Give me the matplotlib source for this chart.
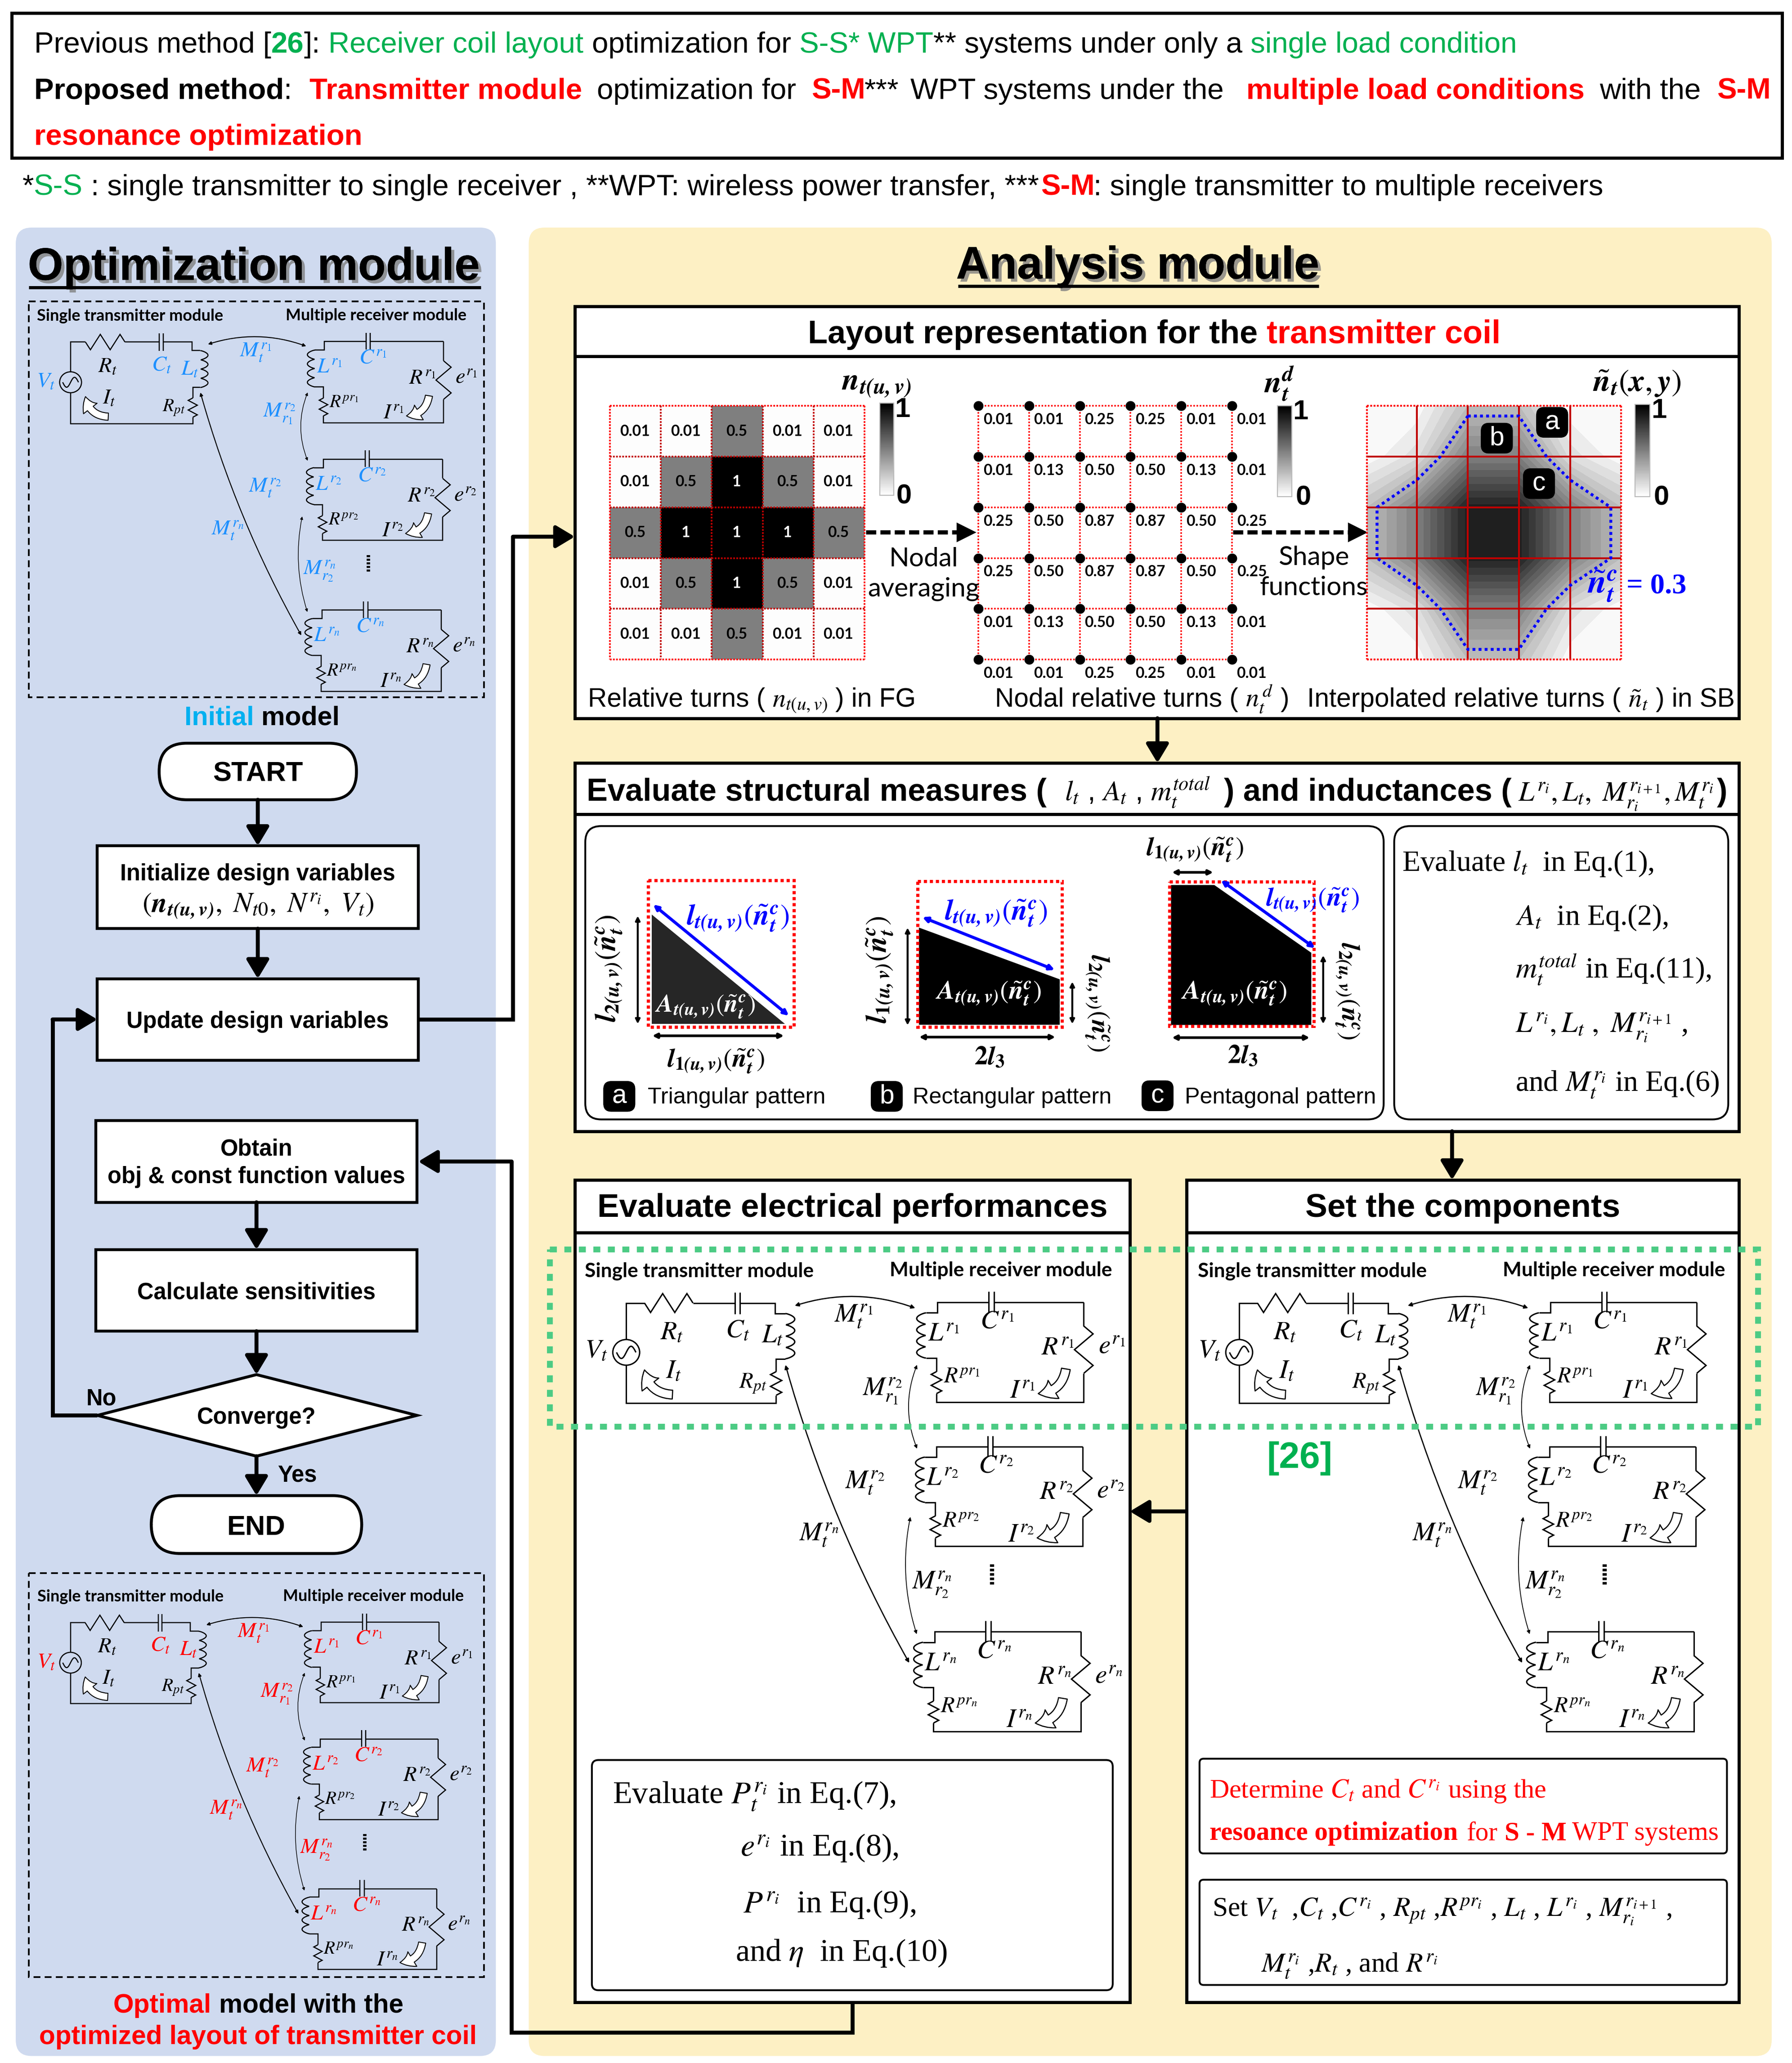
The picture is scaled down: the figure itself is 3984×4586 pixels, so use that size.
from matplotlib import pyplot as plt
from matplotlib.patches import FancyBboxPatch, FancyArrowPatch, Polygon, Ellipse, Rectangle
import matplotlib.patheffects as pe
import numpy as np

plt.rcParams['mathtext.fontset'] = 'stix'

# values
fg_turns = [[0.01, 0.01, 0.5, 0.01, 0.01],
            [0.01, 0.5, 1, 0.5, 0.01],
            [0.5, 1, 1, 1, 0.5],
            [0.01, 0.5, 1, 0.5, 0.01],
            [0.01, 0.01, 0.5, 0.01, 0.01]]
nodal_turns = [[0.01, 0.01, 0.25, 0.25, 0.01, 0.01],
               [0.01, 0.13, 0.50, 0.50, 0.13, 0.01],
               [0.25, 0.50, 0.87, 0.87, 0.50, 0.25],
               [0.25, 0.50, 0.87, 0.87, 0.50, 0.25],
               [0.01, 0.13, 0.50, 0.50, 0.13, 0.01],
               [0.01, 0.01, 0.25, 0.25, 0.01, 0.01]]
threshold = 0.3

W, H = 1360, 4586 / (3984 / 1360)
PT = 3984 / 1360 * 0.72   # one picture unit in points
K = 0.9982
SANS = 'Liberation Sans'
SERIF = 'Liberation Serif'
LABEL = 'Lato'
RED = '#FF0000'
GREEN = '#00B050'
DARKRED = '#C00000'
BLUE = '#0000FF'

fig = plt.figure(figsize=(39.84, 45.86), dpi=100)
ax = fig.add_axes([0, 0, 1, 1])
ax.set_xlim(0, W)
ax.set_ylim(H, 0)
ax.set_autoscale_on(False)
ax.axis('off')
renderer = fig.canvas.get_renderer()


def txt(x, y, s, size, color='black', weight='normal', family=SANS, ha='center', va='center', **kw):
    return ax.text(x, y, s, fontsize=size * PT, color=color, fontweight=weight, family=family,
                   ha=ha, va=va, **kw)


def ft(x, y, *a, **k):
    return txt(x * K, y * K + 1.7, *a, **k)


def rich(x, y, parts, size, family=SANS):
    # parts: (text, color, weight) with optional x and size
    base = y + 0.36 * size
    for p in parts:
        if len(p) > 3 and p[3] is not None:
            x = p[3]
        s = p[0]
        sz = p[4] if len(p) > 4 else size
        x += 0.28 * sz * (len(s) - len(s.lstrip()))
        if not s.strip():
            continue
        t = txt(x, base, s.strip(), sz, p[1], p[2], family, ha='left', va='baseline')
        x += t.get_window_extent(renderer).width / (3984 / W)
        x += 0.28 * sz * (len(s) - len(s.rstrip()))


def line(xs, ys, lw=1.0, color='black', ls='-', z=2, **kw):
    ax.plot(xs, ys, color=color, lw=lw * PT, ls=ls, zorder=z, solid_capstyle='butt',
            solid_joinstyle='miter', **kw)


def box(x0, y0, x1, y1, fc='white', ec='black', lw=1.5, r=0, z=0.6, ls='-'):
    x0, y0, x1, y1 = x0 * K, y0 * K, x1 * K, y1 * K
    style = f'round,pad=0,rounding_size={r}' if r else 'square,pad=0'
    ax.add_patch(FancyBboxPatch((x0, y0), x1 - x0, y1 - y0, boxstyle=style, fc=fc, ec=ec,
                                lw=lw * PT, ls=ls, zorder=z))


HEAD = '-|>,head_length=0.6,head_width=0.36'


def arrow(pts, lw=3.0):
    pts = [(p[0] * K, p[1] * K) for p in pts]
    xs = [p[0] for p in pts]
    ys = [p[1] for p in pts]
    line(xs[:-1], ys[:-1], lw=lw, z=1.5)
    ax.add_patch(FancyArrowPatch(pts[-2], pts[-1], arrowstyle=HEAD, mutation_scale=20 * PT,
                                 fc='black', ec='black', lw=lw * PT, shrinkA=0, shrinkB=0, zorder=1.6))


def dashed_arrow(x0, x1, y):
    line([x0, x1 - 14], [y, y], lw=3.2, ls=(0, (2.4, 1)), z=1.7)
    ax.add_patch(Polygon([(x1 - 15, y - 7.5), (x1, y), (x1 - 15, y + 7.5)], closed=True, fc='black', ec='none',
                         zorder=1.7))


def both(a, b, lw=1.2, color='black', rad=0.0, ms=7):
    ax.add_patch(FancyArrowPatch(a, b, arrowstyle='<|-|>', connectionstyle=f'arc3,rad={rad}',
                                 mutation_scale=ms * PT, fc=color, ec=color, lw=lw * PT,
                                 shrinkA=0, shrinkB=0, zorder=3))


def badge(x, y, s):
    ax.add_patch(FancyBboxPatch((x - 12, y - 11.5), 24, 23, boxstyle='round,pad=0,rounding_size=6', fc='black',
                                ec='black', lw=0.3 * PT, zorder=3))
    ax.text(x, y, s, color='white', fontsize=20 * PT, family=SANS, ha='center', va='center', zorder=4)


def zigzag(p0, p1, n, amp):
    t = np.linspace(0, 1, 2 * n + 1)
    sign = np.where(np.arange(2 * n + 1) % 2 == 1, 1.0, 0.0)
    sign = sign * np.where(np.arange(2 * n + 1) % 4 == 1, 1, -1)
    xs = p0[0] + (p1[0] - p0[0]) * t
    ys = p0[1] + (p1[1] - p0[1]) * t
    dx, dy = p1[0] - p0[0], p1[1] - p0[1]
    ln = np.hypot(dx, dy)
    return xs - dy / ln * amp * sign, ys + dx / ln * amp * sign


def circuit(ox, oy, sx, sy, c_vt, c_m, c_lc, scale=1.0, show_e=True, title_size=12.3):
    tx = lambda x: ox + sx * np.asarray(x, dtype=float)
    ty = lambda y: oy + sy * np.asarray(y, dtype=float)
    lw = 0.85 * scale

    def pl(xs, ys, w=lw):
        line(tx(xs), ty(ys), lw=w, z=2.5)

    def lab(x, y, s, color='black', size=16.5):
        txt(tx(x), ty(y), s, size * scale, color, family=SERIF, zorder=5)

    def hollow(a, b, rad):
        ax.add_patch(FancyArrowPatch((tx(a[0]), ty(a[1])), (tx(b[0]), ty(b[1])),
                                     connectionstyle=f'arc3,rad={rad}',
                                     arrowstyle='simple,head_width=1.0,tail_width=0.42,head_length=0.75',
                                     mutation_scale=13 * scale * PT, fc='white', ec='black',
                                     lw=0.7 * scale * PT, shrinkA=0, shrinkB=0, zorder=3))

    def coil(x, y0, y1, side):
        t = np.linspace(0, 4, 160)
        xs = x + side * 25 * np.abs(np.sin(np.pi * t)) ** 0.7
        ys = y0 + (y1 - y0) * t / 4
        pl(xs, ys)

    txt(tx(62), ty(102), 'Single transmitter module', title_size * scale, weight='bold', family=LABEL, ha='left')
    txt(tx(880), ty(100), 'Multiple receiver module', title_size * scale, weight='bold', family=LABEL, ha='left')

    # transmitter loop
    pl([173, 173, 222], [305, 197, 197])
    zx, zy = zigzag((222, 197), (352, 197), 4, 28)
    pl(zx, zy)
    pl([352, 465], [197, 197])
    pl([465, 465], [165, 229])
    pl([478, 478], [165, 229])
    pl([478, 572, 572, 600], [197, 197, 228, 228])
    coil(600, 228, 362, 1)
    pl([600, 575, 575], [362, 362, 400])
    zx, zy = zigzag((575, 400), (575, 470), 4, 15)
    pl(zx, zy)
    pl([575, 575, 173, 173], [470, 493, 493, 381])
    ax.add_patch(Ellipse((tx(173), ty(343)), 72 * sx, 76 * sy, fc='none', ec='black', lw=lw * PT, zorder=2.5))
    t = np.linspace(-1, 1, 40)
    pl(173 + 26 * t, 343 - 18 * np.sin(np.pi * t))
    lab(92, 340, r'$V_t$', c_vt)
    lab(295, 285, r'$R_t$')
    lab(472, 280, r'$C_t$', c_lc)
    lab(565, 295, r'$L_t$', c_lc)
    lab(300, 400, r'$I_t$')
    lab(513, 435, r'$R_{pt}$', size=14)
    hollow((297, 468), (222, 395), -0.4)

    # receivers
    rec = [(0, 0, '1'), (-3, 427, '2'), (-8, 975, 'n')]
    for dx, dy, i in rec:
        xl, xr = 1008 + dx, 1400 + dx
        pl([xr, 1152 + dx + 7], [195 + dy, 195 + dy])
        pl([1145 + dx, 1145 + dx], [163 + dy, 224 + dy])
        pl([1159 + dx, 1159 + dx], [163 + dy, 224 + dy])
        pl([1145 + dx, xl, xl, 977 + dx], [195 + dy, 195 + dy, 226 + dy, 226 + dy])
        coil(977 + dx, 226 + dy, 360 + dy, -1)
        pl([977 + dx, xl - 3, xl - 3], [360 + dy, 360 + dy, 400 + dy])
        zx, zy = zigzag((xl - 3, 400 + dy), (xl - 3, 465 + dy), 4, 14)
        pl(zx, zy)
        pl([xl - 3, xl - 3, xr, xr], [465 + dy, 490 + dy, 490 + dy, 405 + dy])
        zx, zy = zigzag((xr, 405 + dy), (xr, 265 + dy), 3, 25)
        pl(zx, zy)
        pl([xr, xr], [265 + dy, 195 + dy])
        lab(1024 + dx, 290 + dy, rf'$L^{{r_{i}}}$', c_lc)
        lab(1167 + dx, 255 + dy, rf'$C^{{r_{i}}}$', c_lc)
        lab(1330 + dx, 332 + dy, rf'$R^{{r_{i}}}$')
        if show_e:
            lab(1475 + dx, 328 + dy, rf'$e^{{r_{i}}}$')
        lab(1073 + dx, 418 + dy, rf'$R^{{pr_{i}}}$', size=14)
        lab(1235 + dx, 458 + dy, rf'$I^{{r_{i}}}$')
        hollow((1352 + dx, 392 + dy), (1278 + dx, 465 + dy), -0.4)

    # mutual couplings
    both((tx(625), ty(205)), (tx(948), ty(212)), rad=-0.17, lw=0.75 * scale, ms=5 * scale)
    both((tx(600), ty(380)), (tx(932), ty(1262)), rad=0.06, lw=0.75 * scale, ms=5 * scale)
    both((tx(953), ty(380)), (tx(953), ty(628)), rad=0.2, lw=0.5 * scale, ms=4.5 * scale)
    both((tx(935), ty(830)), (tx(952), ty(1177)), rad=0.13, lw=0.5 * scale, ms=4.5 * scale)
    lab(782, 235, r'$M_t^{r_1}$', c_m)
    lab(860, 458, r'$M_{r_1}^{r_2}$', c_m)
    lab(812, 728, r'$M_t^{r_2}$', c_m)
    lab(690, 882, r'$M_t^{r_n}$', c_m)
    lab(992, 1030, r'$M_{r_2}^{r_n}$', c_m)
    line(tx([1153, 1153]), ty([970, 1035]), lw=2.6 * scale, ls=(0, (0.6, 0.45)), z=3)


# ---- header
box(9, 10, 1355, 120, lw=2.4)
rich(26, 32, [('Previous method [', 'black', 'normal'), ('26', GREEN, 'bold'), (']: ', 'black', 'normal'),
              ('Receiver coil layout ', GREEN, 'normal'), ('optimization for ', 'black', 'normal'),
              ('S-S* WPT', GREEN, 'normal'), ('** systems under only a ', 'black', 'normal'),
              ('single load condition', GREEN, 'normal')], 22.3)
rich(26, 67, [('Proposed method', 'black', 'bold'), (':', 'black', 'normal'),
              ('Transmitter module', RED, 'bold', 235), ('optimization for', 'black', 'normal', 453),
              ('S-M', RED, 'bold', 616), ('***', 'black', 'normal', 656), ('WPT systems under the', 'black', 'normal', 691),
              ('multiple load conditions', RED, 'bold', 946), ('with the', 'black', 'normal', 1214),
              ('S-M', RED, 'bold', 1303)], 22.3)
rich(26, 102, [('resonance optimization', RED, 'bold')], 22.3)
rich(17, 140, [('*', 'black', 'normal'), ('S-S', GREEN, 'normal'),
               (': single transmitter to single receiver , **WPT: wireless power transfer, ***', 'black', 'normal', 69),
               ('S-M', RED, 'bold', 790), (': single transmitter to multiple receivers', 'black', 'normal', 830)], 22.3)

# ---- panels
box(12, 173, 377, 1563, fc='#CFDAEF', ec='none', lw=0, r=12, z=0.2)
box(402, 173, 1347, 1563, fc='#FDF0C4', ec='none', lw=0, r=12, z=0.2)
shadow = [pe.withSimplePatchShadow(offset=(5, -5), shadow_rgbFace='#808080', alpha=0.8), pe.Normal()]
ft(193, 202, 'Optimization module', 34.7, weight='bold', path_effects=shadow)
line([22, 365], [218, 218], lw=2.4, z=3)
ft(865, 201, 'Analysis module', 34.7, weight='bold', path_effects=shadow)
line([727, 1001], [217, 217], lw=2.4, z=3)

# ---- flow chart
box(22, 229, 368, 530, fc='none', lw=1.3, ls=(0, (4, 2.5)), z=1.2)
circuit(13.65, 218.4, 0.2307, 0.2090, '#1E90FF', '#1E90FF', '#1E90FF')
rich(140, 543, [('Initial', '#00B0F0', 'bold'), (' ', 'black', 'normal'), ('model', 'black', 'bold')], 20.2)
box(121, 565, 271, 608, lw=2.2, r=21)
ft(196, 587, 'START', 21, weight='bold')
box(74, 643, 318, 706, lw=2.2)
ft(196, 663, 'Initialize design variables', 17.3, weight='bold')
ft(196, 687, r'$\left(\mathbfit{n}_{\mathbfit{t(u,v)}},\ N_{t0},\ N^{r_i},\ V_t\right)$', 21.5, family=SERIF)
box(74, 744, 318, 806, lw=2.2)
ft(196, 775, 'Update design variables', 17.3, weight='bold')
box(73, 852, 317, 914, lw=2.2)
ft(195, 872, 'Obtain', 17.3, weight='bold')
ft(195, 893, 'obj & const function values', 17.3, weight='bold')
box(73, 950, 317, 1012, lw=2.2)
ft(195, 981, 'Calculate sensitivities', 17.3, weight='bold')
ax.add_patch(Polygon([(74 * K, 1076 * K), (195 * K, 1045 * K), (317 * K, 1076 * K), (195 * K, 1107 * K)],
                     closed=True, fc='white', ec='black', lw=2.2 * PT, zorder=0.6))
ft(195, 1076, 'Converge?', 17.3, weight='bold')
box(115, 1137, 275, 1181, lw=2.2, r=22)
ft(195, 1160, 'END', 21, weight='bold')
ft(77, 1062, 'No', 17.3, weight='bold')
ft(226, 1120, 'Yes', 17.3, weight='bold')
arrow([(196, 608), (196, 643)])
arrow([(196, 706), (196, 744)])
arrow([(195, 914), (195, 950)])
arrow([(195, 1012), (195, 1045)])
arrow([(195, 1107), (195, 1137)])
arrow([(74, 1076), (40, 1076), (40, 775), (74, 775)])
arrow([(318, 775), (390, 775), (390, 408), (437, 408)])
arrow([(648, 1522), (648, 1545), (389, 1545), (389, 883), (318, 883)])
box(22, 1196, 368, 1503, fc='none', lw=1.3, ls=(0, (4, 2.5)), z=1.2)
circuit(14.1, 1190.6, 0.2279, 0.2074, RED, RED, RED)
rich(86, 1520, [('Optimal', RED, 'bold'), (' model with the', 'black', 'bold')], 20)
ft(196, 1547, 'optimized layout of transmitter coil', 20, RED, 'bold')

# ---- layout representation
box(437, 233, 1322, 546, lw=2.4)
line([436, 1320], [270.5, 270.5], lw=2.4)
rich(613, 251.5, [('Layout representation for the ', 'black', 'bold'), ('transmitter coil', RED, 'bold')], 24.6)

fx = 463 + 38.6 * np.arange(6)
fy = 308 + 38.5 * np.arange(6)
ax.pcolormesh(fx, fy, np.array(fg_turns), cmap='gray_r', vmin=0, vmax=1, zorder=1)
for i in range(6):
    dotted = (0, (1, 0.8))
    line([fx[i], fx[i]], [fy[0], fy[-1]], lw=1.3, color=RED if i in (0, 5) else DARKRED, ls=dotted)
    line([fx[0], fx[-1]], [fy[i], fy[i]], lw=1.3, color=RED if i in (0, 5) else DARKRED, ls=dotted)
for r, row in enumerate(fg_turns):
    for c, v in enumerate(row):
        txt((fx[c] + fx[c + 1]) / 2 - 0.5, (fy[r] + fy[r + 1]) / 2, f'{v:g}', 11.5, 'white' if v == 1 else 'black',
            'bold', LABEL, zorder=4)


def colorbar(l, r, top, bot, x1, x0):
    ys = np.linspace(top, bot, 65)
    ax.pcolormesh([l, r], ys, np.linspace(1, 0, 64)[:, None], cmap='gray_r', vmin=0, vmax=1, zorder=1)
    ax.add_patch(Rectangle((l, top), r - l, bot - top, fc='none', ec='#BBBBBB', lw=0.8 * PT, zorder=1.1))
    txt(x1, top + 5, '1', 21, weight='bold')
    txt(x0, bot + 1, '0', 21, weight='bold')


colorbar(667.6, 678.2, 306, 376, 685, 686)
txt(665, 292, r'$\mathbfit{n}_{\mathbfit{t(u,v)}}$', 24, family=SERIF)
dashed_arrow(657, 741, 404)
txt(701, 424, 'Nodal', 20, family=LABEL)
txt(701, 447, 'averaging', 20, family=LABEL)

nx = 742.5 + 38.5 * np.arange(6)
ny = fy
for i in range(6):
    line([nx[i], nx[i]], [ny[0], ny[-1]], lw=1.2, color=RED, ls=(0, (1, 1)))
    line([nx[0], nx[-1]], [ny[i], ny[i]], lw=1.2, color=RED, ls=(0, (1, 1)))
gx, gy = np.meshgrid(nx, ny)
ax.scatter(gx.ravel(), gy.ravel(), s=(7 * PT) ** 2, color='black', zorder=3)
for r, row in enumerate(nodal_turns):
    for c, v in enumerate(row):
        txt(nx[c] + 15, ny[r] + 10.5, f'{v:.2f}', 11.5, 'black', 'bold', LABEL, zorder=4)
colorbar(969.5, 980.5, 308, 377, 987, 989)
txt(971, 291, r'$\mathbfit{n}_{\mathbfit{t}}^{\mathbfit{d}}$', 24, family=SERIF)
dashed_arrow(935.6, 1038, 404)
txt(997, 423, 'Shape', 20, family=LABEL)
txt(997, 446, 'functions', 20, family=LABEL)

sx_edges = [1037.5, 1075.3, 1114, 1152.7, 1191.6, 1230.2]
sy_edges = fy
ax.contourf(sx_edges, sy_edges, np.array(nodal_turns), levels=np.linspace(0, 1, 21), cmap='gray_r',
            vmin=0, vmax=1, zorder=1)
for i in range(6):
    c, ls = (RED, (0, (1, 0.8))) if i in (0, 5) else (DARKRED, '-')
    line([sx_edges[i], sx_edges[i]], [sy_edges[0], sy_edges[-1]], lw=1.4, color=c, ls=ls)
    line([sx_edges[0], sx_edges[-1]], [sy_edges[i], sy_edges[i]], lw=1.4, color=c, ls=ls)
ax.contour(sx_edges, sy_edges, np.array(nodal_turns), levels=[threshold], colors=[BLUE],
           linewidths=2.2 * PT, linestyles=[(0, (1, 1.1))], zorder=3)
badge(1178, 320.5, 'a')
badge(1136, 332.5, 'b')
badge(1168, 367, 'c')
colorbar(1241, 1252, 307, 377, 1259, 1261)
txt(1242.5, 291, r'$\tilde{\mathbfit{n}}_{\mathbfit{t}}(\mathbfit{x},\mathbfit{y})$', 24, family=SERIF)
txt(1216, 445, r'$\tilde{\mathbfit{n}}_{\mathbfit{t}}^{\mathbfit{c}}$', 26, BLUE, family=SERIF)
txt(1257, 445, '= 0.3', 22, BLUE, 'bold', SERIF)

rich(446, 529, [('Relative turns (', 'black', 'normal'), (r' $n_{t(u,v)}$ ', 'black', 'normal'), (') in FG', 'black', 'normal')], 20)
rich(755, 529, [('Nodal relative turns (', 'black', 'normal'), (r' $n_t^{\,d}$ ', 'black', 'normal'), (')', 'black', 'normal')], 20)
rich(992, 529, [('Interpolated relative turns (', 'black', 'normal'), (r' $\tilde{n}_t$ ', 'black', 'normal'), (') in SB', 'black', 'normal')], 20)
arrow([(880, 546), (880, 580)])

# ---- structural measures
box(437, 580, 1322, 860, lw=2.4)
line([436, 1320], [618, 618], lw=2.4)
rich(445, 599, [('Evaluate structural measures (', 'black', 'bold'),
                (r'$l_t$ , $A_t$ , $m_t^{total}$', 'black', 'normal', 808, 21.5),
                (') and inductances (', 'black', 'bold', 929),
                (r'$L^{r_i}, L_t,\ M_{r_i}^{r_{i+1}}, M_t^{r_i}$', 'black', 'normal', 1152, 21.5),
                (')', 'black', 'bold', 1303)], 24.0)
box(445, 628, 1052, 851, lw=1.4, r=12)
box(1060, 628, 1314, 851, lw=1.4, r=12)
tlen = r'$\mathbfit{l}_{\mathbfit{t(u,v)}}(\tilde{\mathbfit{n}}_{\mathbfit{t}}^{\mathbfit{c}})$'
area = r'$\mathbfit{A}_{\mathbfit{t(u,v)}}(\tilde{\mathbfit{n}}_{\mathbfit{t}}^{\mathbfit{c}})$'
l1 = r'$\mathbfit{l}_{\mathbf{1}\mathbfit{(u,v)}}(\tilde{\mathbfit{n}}_{\mathbfit{t}}^{\mathbfit{c}})$'
l2 = r'$\mathbfit{l}_{\mathbf{2}\mathbfit{(u,v)}}(\tilde{\mathbfit{n}}_{\mathbfit{t}}^{\mathbfit{c}})$'
two_l = r'$\mathbf{2}\mathbfit{l}_{\mathbf{3}}$'
shapes = [[(494.5, 694), (494.5, 777), (595.6, 777)],
          [(697.5, 704), (697.5, 777.8), (804.4, 777.8), (804.4, 743)],
          [(888.7, 671.6), (921.6, 671.6), (995.2, 723), (995.2, 777.8), (888.7, 777.8)]]
frames = [(492, 668, 602.6, 779.5), (696.3, 668.6, 806, 779.5), (887.5, 669, 997, 778.7)]
fills = ['#262626', 'black', 'black']
for shp, fr, fc in zip(shapes, frames, fills):
    ax.add_patch(Polygon(shp, closed=True, fc=fc, ec='none', zorder=1))
    ax.add_patch(Rectangle((fr[0], fr[1]), fr[2] - fr[0], fr[3] - fr[1], fc='none', ec=RED, lw=2.4 * PT,
                           ls=(0, (1, 0.9)), zorder=2))
both((495.7, 686.4), (598.7, 770.8), lw=2.3, color=BLUE, ms=7.5)
both((700, 696), (800.5, 736), lw=2.3, color=BLUE, ms=7.5)
both((926.6, 668), (998, 719.5), lw=2.3, color=BLUE, ms=7.5)
txt(560, 697, tlen, 22, BLUE, family=SERIF, zorder=5)
txt(756, 693, tlen, 22, BLUE, family=SERIF, zorder=5)
txt(996, 683, tlen, 20, BLUE, family=SERIF, zorder=5)
txt(535, 764, area, 19, 'white', family=SERIF, zorder=5)
txt(750, 754, area, 20, 'white', family=SERIF, zorder=5)
txt(936.5, 754, area, 20, 'white', family=SERIF, zorder=5)
both((484, 695), (484, 777), lw=1.5, ms=7)
both((495, 786), (595, 786), lw=2.0, ms=7)
both((688.8, 704), (688.8, 778), lw=1.5, ms=7)
both((813.8, 745), (813.8, 777), lw=1.5, ms=7)
both((697.5, 787), (801, 787), lw=2.0, ms=7)
both((889.4, 662), (920.8, 662), lw=2.0, ms=7)
both((1004.2, 725), (1004.2, 777), lw=1.5, ms=7)
both((889.4, 787.4), (994, 787.4), lw=2.0, ms=7)
txt(462.4, 735, l2, 22, family=SERIF, rotation=90)
txt(668, 736, l1, 22, family=SERIF, rotation=90)
txt(832.6, 761, l2, 20, family=SERIF, rotation=270)
txt(1022.6, 752, l2, 20, family=SERIF, rotation=270)
txt(543.5, 805, l1, 20, family=SERIF)
txt(907, 644.6, l1, 20, family=SERIF)
txt(751, 803, two_l, 20, family=SERIF)
txt(943, 802, two_l, 20, family=SERIF)
badge(470, 832, 'a')
badge(673, 832, 'b')
badge(878.5, 831.5, 'c')
txt(491.7, 833, 'Triangular pattern', 17.2, ha='left')
txt(692.7, 833, 'Rectangular pattern', 17.2, ha='left')
txt(899, 833, 'Pentagonal pattern', 17.2, ha='left')
txt(1064, 661, r'Evaluate $l_t$  in Eq.(1),', 22.4, family=SERIF, ha='left', va='baseline')
txt(1150, 702, r'$A_t$  in Eq.(2),', 22.4, family=SERIF, ha='left', va='baseline')
txt(1150, 742, r'$m_t^{total}$ in Eq.(11),', 22.4, family=SERIF, ha='left', va='baseline')
txt(1150, 783, r'$L^{r_i}, L_t\ ,\ M_{r_i}^{r_{i+1}}$ ,', 22.4, family=SERIF, ha='left', va='baseline')
txt(1150, 828, r'and $M_t^{r_i}$ in Eq.(6)', 22.4, family=SERIF, ha='left', va='baseline')
arrow([(1104, 860), (1104, 897)])

# ---- bottom boxes
box(437, 897, 859, 1522, lw=2.4)
line([436, 857.5], [935.5, 935.5], lw=2.4)
ft(648, 917, 'Evaluate electrical performances', 24.8, weight='bold')
box(902, 897, 1322, 1522, lw=2.4)
line([900.5, 1320], [935.5, 935.5], lw=2.4)
ft(1112, 917, 'Set the components', 25, weight='bold')
arrow([(902, 1149), (859, 1149)])
circuit(426.3, 938.3, 0.283, 0.2564, 'black', 'black', 'black', scale=1.227)
circuit(891.5, 938.3, 0.283, 0.2564, 'black', 'black', 'black', scale=1.227, show_e=False)
ax.add_patch(Rectangle((417, 948), 917, 134.5, fc='none', ec='#4CCB84', lw=4.4 * PT, ls=(0, (1.2, 1.3)), zorder=4))
ft(988, 1107, '[26]', 28, GREEN, 'bold')

box(450, 1338, 846, 1513, lw=1.4, r=5)
txt(465, 1368, r'Evaluate $P_t^{r_i}$ in Eq.(7),', 24, family=SERIF, ha='left', va='baseline')
txt(562, 1408, r'$e^{r_i}$ in Eq.(8),', 24, family=SERIF, ha='left', va='baseline')
txt(564, 1451, r'$P^{r_i}$  in Eq.(9),', 24, family=SERIF, ha='left', va='baseline')
txt(558, 1488, r'and $\eta$  in Eq.(10)', 24, family=SERIF, ha='left', va='baseline')
box(912, 1337, 1313, 1409, lw=1.4, r=3)
txt(918, 1364, r'Determine $C_t$ and $C^{r_i}$ using the', 20.5, RED, family=SERIF, ha='left', va='baseline')
rich(918, 1389, [('resoance optimization', RED, 'bold'), ('for', RED, 'normal', 1113),
                 ('S - M', RED, 'bold', 1142), ('WPT systems', RED, 'normal', 1193)], 20.2, family=SERIF)
box(912, 1429, 1313, 1509, lw=1.4, r=3)
txt(920, 1454, r'Set $V_t$  ,$C_t$ ,$C^{r_i}$ , $R_{pt}$ ,$R^{pr_i}$ , $L_t$ , $L^{r_i}$ , $M_{r_i}^{r_{i+1}}$ ,', 21,
    family=SERIF, ha='left', va='baseline')
txt(957, 1496, r'$M_t^{r_i}$ ,$R_t$ , and $R^{r_i}$', 21, family=SERIF, ha='left', va='baseline')

fig.savefig('out.png', dpi=100, facecolor='white')
